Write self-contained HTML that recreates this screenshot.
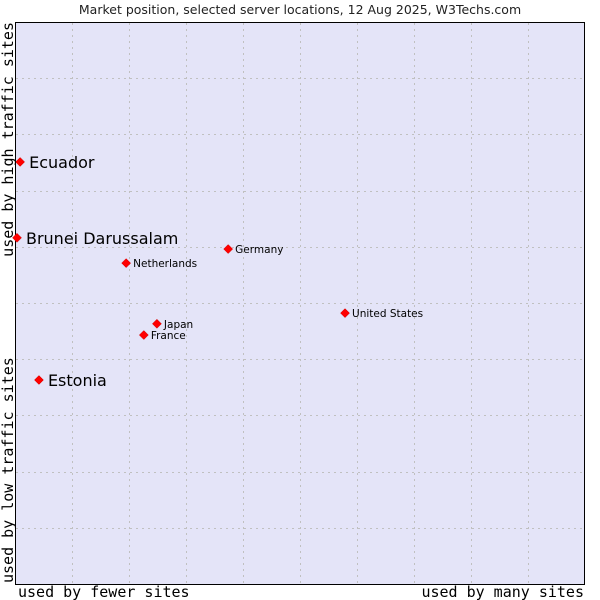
<!DOCTYPE html>
<html><head><meta charset="utf-8"><style>
html,body{margin:0;padding:0;background:#fff;}
svg{display:block;}
</style></head><body>
<svg id="chart" width="600" height="600" xmlns="http://www.w3.org/2000/svg">
<text x="300" y="14" text-anchor="middle" font-family="DejaVu Sans, sans-serif" font-size="12.5" fill="#222">Market position, selected server locations, 12 Aug 2025, W3Techs.com</text>
<rect x="15.5" y="22.5" width="569" height="562" fill="#e4e4f8" stroke="#000" stroke-width="1"/>
<g id="grid"></g>
<g id="marks"></g>
<text x="18" y="597" font-family="DejaVu Sans Mono, monospace" font-size="15" fill="#000">used by fewer sites</text>
<text x="584" y="597" text-anchor="end" font-family="DejaVu Sans Mono, monospace" font-size="15" fill="#000">used by many sites</text>
<text transform="translate(13,22) rotate(-90)" text-anchor="end" font-family="DejaVu Sans Mono, monospace" font-size="15" fill="#000">used by high traffic sites</text>
<text transform="translate(13,583) rotate(-90)" font-family="DejaVu Sans Mono, monospace" font-size="15" fill="#000">used by low traffic sites</text>
</svg>
<script>
const countries = ["Ecuador","Brunei Darussalam","Estonia","Netherlands","Germany","Japan","France","United States"];
const xValues = [0.9, 0.35, 4.2, 19.5, 37.4, 24.9, 22.6, 57.9];
const yValues = [75.1, 61.6, 36.3, 57.1, 59.6, 46.3, 44.3, 48.2];
const highlighted = [true, true, true, false, false, false, false, false];

const NS = "http://www.w3.org/2000/svg";
const X0 = 15, X1 = 585, Y0 = 584, Y1 = 22;
function xs(v){ return X0 + v/100*(X1-X0); }
function ys(v){ return Y0 - v/100*(Y0-Y1); }

const grid = document.getElementById("grid");
for (let i = 1; i < 10; i++) {
  const vx = document.createElementNS(NS,"line");
  
  
  const gx = Math.round(xs(i*10)) + 0.5;
  vx.setAttribute("x1", gx); vx.setAttribute("x2", gx);
  vx.setAttribute("y1", Y1+1); vx.setAttribute("y2", Y0);
  vx.setAttribute("stroke", "#c0c0c0"); vx.setAttribute("stroke-dasharray", "2,4");
  grid.appendChild(vx);
  const hz = document.createElementNS(NS,"line");
  
  
  const gy = Math.round(ys(i*10)) + 0.5;
  hz.setAttribute("x1", X0+1); hz.setAttribute("x2", X1);
  hz.setAttribute("y1", gy); hz.setAttribute("y2", gy);
  hz.setAttribute("stroke", "#c0c0c0"); hz.setAttribute("stroke-dasharray", "2,4");
  grid.appendChild(hz);
}

const marks = document.getElementById("marks");
countries.forEach((c, i) => {
  const cx = xs(xValues[i]), cy = ys(yValues[i]);
  const d = document.createElementNS(NS,"polygon");
  
  
  d.setAttribute("points", `${cx},${cy-4.5} ${cx+4.5},${cy} ${cx},${cy+4.5} ${cx-4.5},${cy}`);
  d.setAttribute("fill", "#f00");
  d.setAttribute("stroke", "#c00");
  d.setAttribute("stroke-width", "0.5");
  marks.appendChild(d);
  const t = document.createElementNS(NS,"text");
  
  
  const big = highlighted[i];
  t.setAttribute("x", cx + (big ? 9 : 7));
  t.setAttribute("y", cy + (big ? 6 : 4));
  t.setAttribute("font-family", "DejaVu Sans, sans-serif");
  t.setAttribute("font-size", big ? "16" : "10.5");
  t.setAttribute("fill", "#000");
  t.textContent = c;
  marks.appendChild(t);
});
</script>
</body></html>
